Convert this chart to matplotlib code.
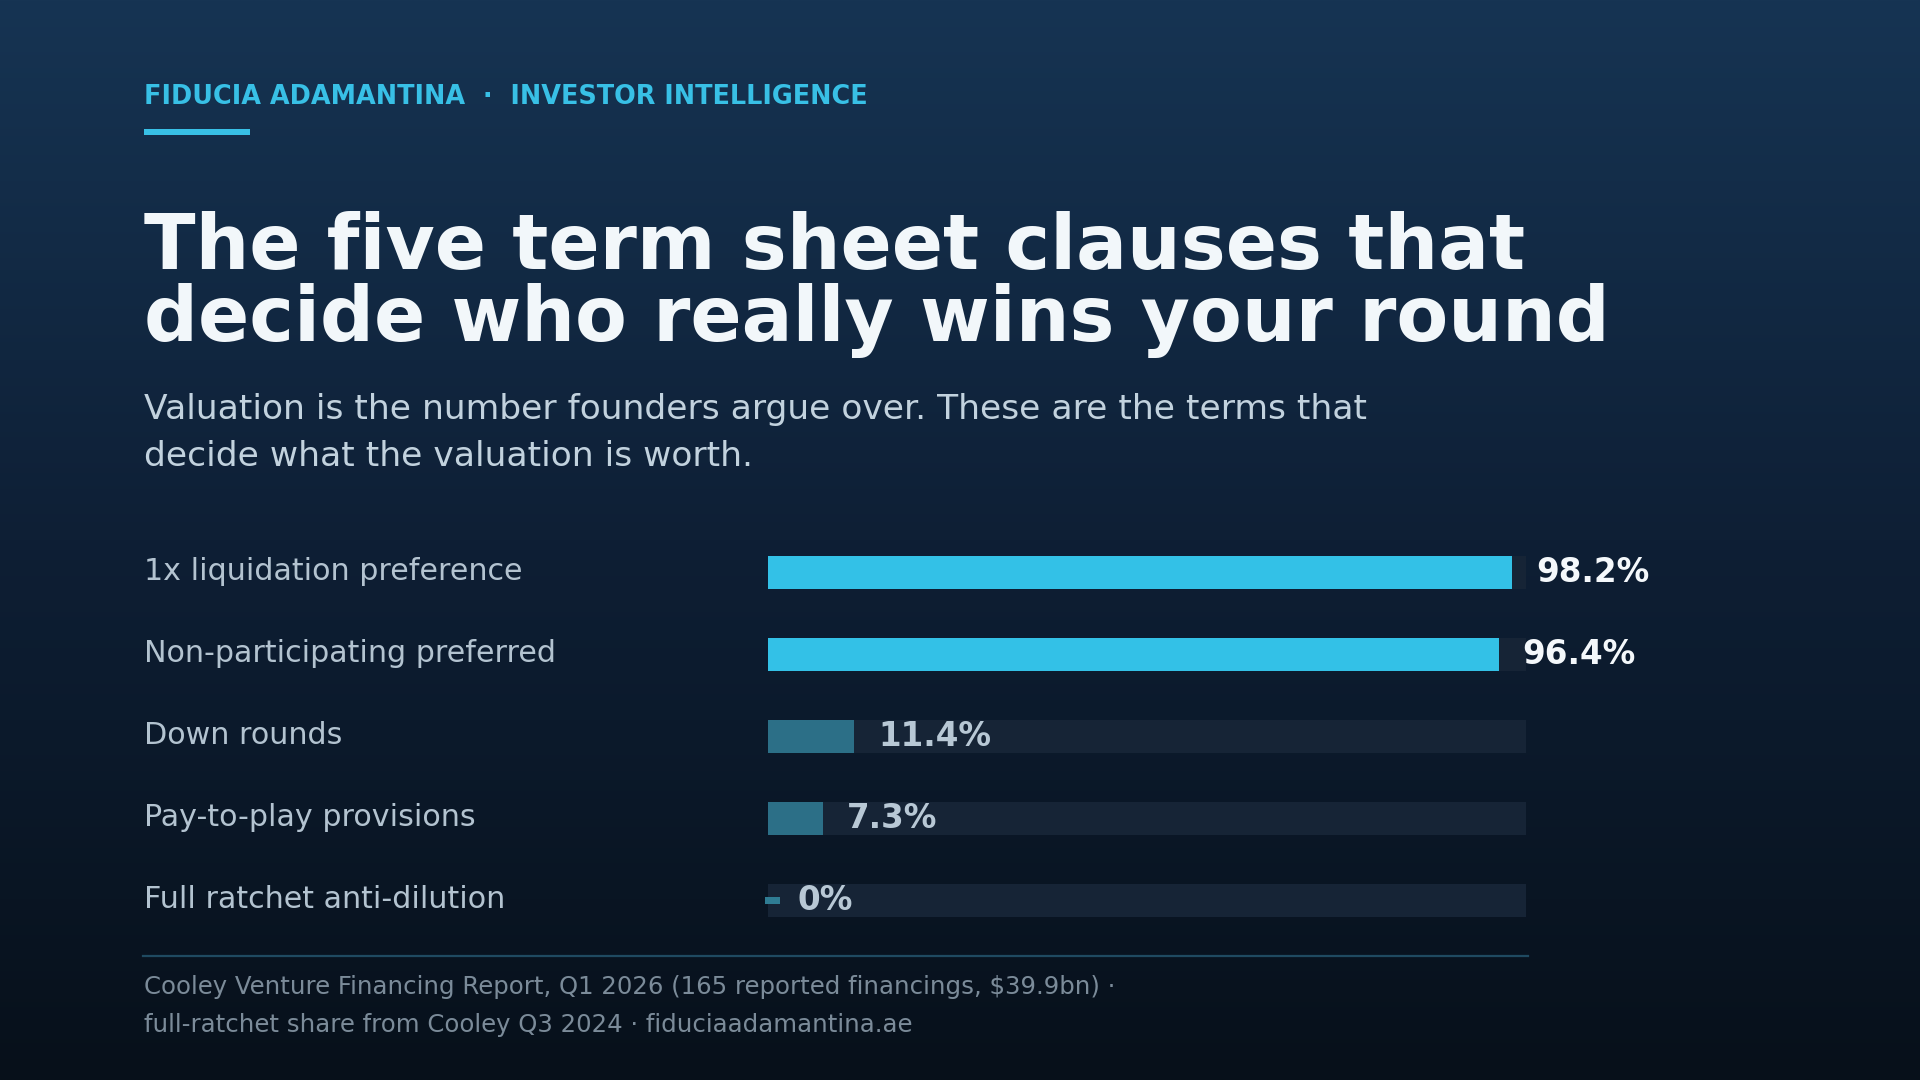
import numpy as np
import matplotlib
matplotlib.use("Agg")
import matplotlib.pyplot as plt
from matplotlib.patches import Rectangle
from matplotlib.lines import Line2D
from matplotlib.transforms import blended_transform_factory

# ---- data ----
categories = [
    "1x liquidation preference",
    "Non-participating preferred",
    "Down rounds",
    "Pay-to-play provisions",
    "Full ratchet anti-dilution",
]
shares = [98.2, 96.4, 11.4, 7.3, 0.0]
value_labels = ["98.2%", "96.4%", "11.4%", "7.3%", "0%"]
highlight = [True, True, False, False, False]

header = "FIDUCIA ADAMANTINA  ·  INVESTOR INTELLIGENCE"
title_lines = ["The five term sheet clauses that", "decide who really wins your round"]
subtitle_lines = [
    "Valuation is the number founders argue over. These are the terms that",
    "decide what the valuation is worth.",
]
footer_lines = [
    "Cooley Venture Financing Report, Q1 2026 (165 reported financings, $39.9bn) ·",
    "full-ratchet share from Cooley Q3 2024 · fiduciaadamantina.ae",
]

# ---- style ----
W, H = 1920, 1080
plt.rcParams["font.family"] = ["DejaVu Sans"]
C_ACCENT = "#38c0e6"
C_BAR_HI = "#33c1e7"
C_BAR_LO = "#2c6f87"
C_TRACK = "#162436"
C_TITLE = "#f2f7fa"
C_SUB = "#c2d2de"
C_LABEL = "#b3c3d0"
C_VAL_HI = "#f4f8fb"
C_VAL_LO = "#b8c8d5"
C_FOOT = "#7b8b99"
C_RULE = "#1f4a61"

fig = plt.figure(figsize=(W / 100, H / 100), dpi=100)


def fx(x):
    return x / W


def fy(y):
    return 1 - y / H


# background gradient
bg = fig.add_axes([0, 0, 1, 1], zorder=-10)
bg.set_axis_off()
t = np.linspace(0, 1, 512)[:, None]
top = np.array([0x16, 0x34, 0x53]) / 255
mid = np.array([0x0e, 0x1f, 0x35]) / 255
bot = np.array([0x07, 0x10, 0x1a]) / 255
grad = np.where(t < 0.5, top + (mid - top) * (t / 0.5), mid + (bot - mid) * ((t - 0.5) / 0.5))
img = np.repeat(grad[:, None, :], 4, axis=1)
bg.imshow(img, aspect="auto", extent=[0, 1, 0, 1], origin="upper")
bg.set_xlim(0, 1)
bg.set_ylim(0, 1)

# header
fig.text(fx(144), fy(96.5), header, color=C_ACCENT, fontsize=18.4, fontweight="bold",
         va="center", ha="left")
fig.patches.append(Rectangle((fx(144), fy(134.5)), fx(106), 5 / H, transform=fig.transFigure,
                             facecolor=C_ACCENT, edgecolor="none"))

# title
for i, line in enumerate(title_lines):
    fig.text(fx(144), fy(269 + 72 * i), line, color=C_TITLE, fontsize=54.4,
             fontweight="bold", va="baseline", ha="left")

# subtitle
for i, line in enumerate(subtitle_lines):
    fig.text(fx(144), fy(419 + 46.5 * i), line, color=C_SUB, fontsize=24.8,
             va="baseline", ha="left")

# bars
row_top, row_step = 572, 82
n = len(categories)
ax_top = row_top - row_step / 2
ax_h = n * row_step
ax = fig.add_axes([fx(768), fy(ax_top + ax_h), fx(1526) - fx(768), ax_h / H])
ax.set_xlim(0, 100)
ax.set_ylim(n - 0.5, -0.5)
ax.set_axis_off()
ax.patch.set_alpha(0)

ys = np.arange(n)
bar_h = 33 / row_step
ax.barh(ys, [100] * n, height=bar_h, color=C_TRACK, zorder=1)
colors = [C_BAR_HI if h else C_BAR_LO for h in highlight]
ax.barh(ys, shares, height=bar_h, color=colors, zorder=2)

STUB_W = 2.0
STUB_OFF = -0.4
lab_tr = blended_transform_factory(fig.transFigure, ax.transData)
for y, v, lab, cat, h in zip(ys, shares, value_labels, categories, highlight):
    if v == 0:
        ax.barh(y, STUB_W, left=STUB_OFF, height=7 / row_step, color="#2f7c93",
                zorder=3, clip_on=False)
    end = max(v, 0.8)
    ax.text(end + 3.15, y, lab, color=C_VAL_HI if h else C_VAL_LO, fontsize=23.5,
            fontweight="bold", va="center", ha="left", clip_on=False)
    ax.text(fx(144), y, cat, transform=lab_tr, color=C_LABEL, fontsize=21.7,
            va="center", ha="left")

# divider
fig.lines.append(Line2D([fx(143), fx(1528)], [fy(955.5), fy(955.5)], transform=fig.transFigure,
                        color=C_RULE, linewidth=1.6))

# footer
for i, line in enumerate(footer_lines):
    fig.text(fx(144), fy(987 + 38 * i), line, color=C_FOOT, fontsize=17.6,
             va="center", ha="left")

fig.savefig("out.png", dpi=100)
